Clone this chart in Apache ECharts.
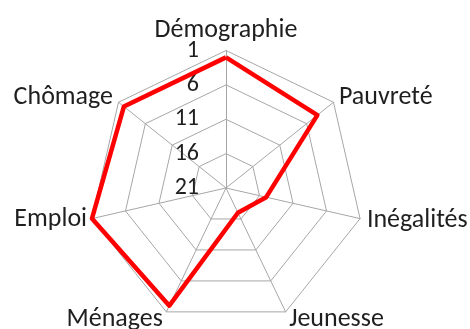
<!DOCTYPE html>
<html>
<head>
<meta charset="utf-8">
<script src="https://cdn.jsdelivr.net/npm/echarts@6/dist/echarts.min.js"></script>
<style>
  html, body { margin: 0; padding: 0; background: #ffffff; }
  #chart { width: 470px; height: 329px; }
</style>
</head>
<body>
<div id="chart"></div>
<script>
// Indicators, listed clockwise from the top
const indicators = ['Démographie', 'Pauvreté', 'Inégalités', 'Jeunesse', 'Ménages', 'Emploi', 'Chômage'];
// Rank on each indicator (1 = best, 21 = worst)
const ranks = [2, 4, 15, 17, 2, 1, 2];
// Rank tick labels, from the outer ring inwards
const rankTicks = [1, 6, 11, 16, 21];

const WORST = 21;
// The radar grows outwards, so ranks are drawn as distance from the worst rank
const toRadial = r => WORST - r;

// Gap between each outer vertex and its name
const nameGaps = [7, 7, 7, 8, 8, 5, 7];

// ECharts lays radar axes counter-clockwise; reverse the tail to keep clockwise order
const order = [0].concat(indicators.map((_, i) => i).slice(1).reverse());

const chart = echarts.init(document.getElementById('chart'), null, { renderer: 'canvas' });
const font = 'Carlito, Calibri, Lato, sans-serif';

chart.setOption({
  animation: false,
  radar: {
    center: [226, 188],
    radius: 137.5,
    startAngle: 90,
    splitNumber: 4,
    shape: 'polygon',
    nameMoveOverlap: false,
    axisName: { color: '#1f1f1f', fontFamily: font, fontSize: 26 },
    axisLine: { lineStyle: { color: '#a6a6a6', width: 1 } },
    splitLine: { lineStyle: { color: '#a6a6a6', width: 1 } },
    splitArea: { show: false },
    axisTick: { show: false },
    axisLabel: { show: false },
    indicator: order.map((i, k) => {
      const ind = {
        name: indicators[i],
        min: 0,
        max: WORST - rankTicks[0],
        nameGap: nameGaps[i],
        nameMoveOverlap: false
      };
      if (k === 0) {
        ind.axisLabel = {
          show: true,
          color: '#1f1f1f',
          fontFamily: font,
          fontSize: 24,
          margin: 27,
          formatter: v => String(WORST - v)
        };
      }
      return ind;
    })
  },
  series: [{
    type: 'radar',
    symbol: 'none',
    lineStyle: { color: '#ff0000', width: 4.5 },
    data: [{ value: order.map(i => toRadial(ranks[i])) }]
  }]
});
</script>
</body>
</html>
